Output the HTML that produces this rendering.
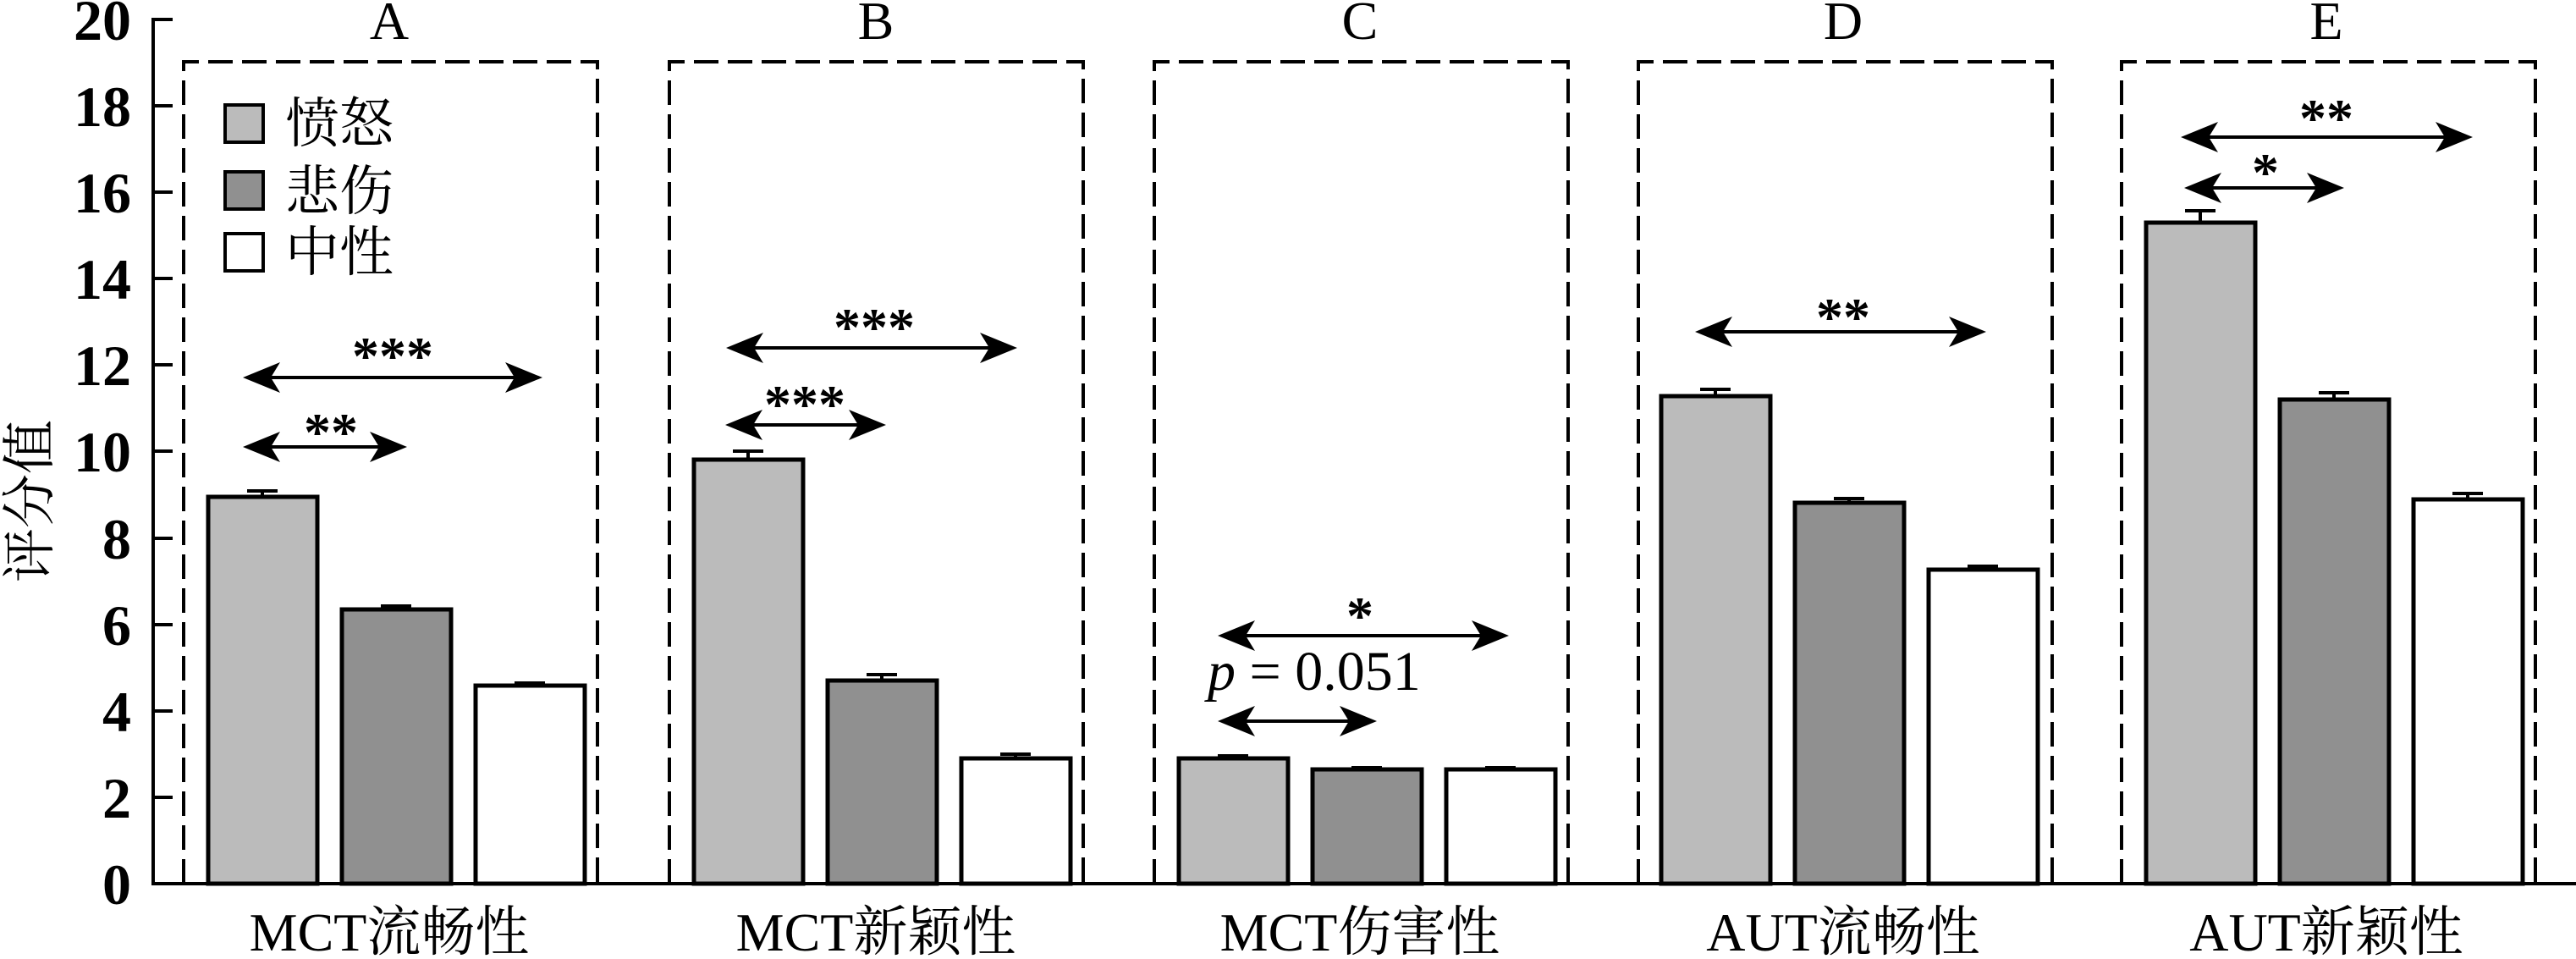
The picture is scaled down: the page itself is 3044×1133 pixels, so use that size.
<!DOCTYPE html>
<html><head><meta charset="utf-8"><style>html,body{margin:0;padding:0;background:#fff}svg{display:block}</style></head>
<body>
<svg width="3044" height="1133" viewBox="0 0 3044 1133" xmlns="http://www.w3.org/2000/svg" font-family="'Liberation Serif','Noto Serif CJK SC',serif">
<defs>
<g id="hl"><polygon points="0,0 44,-18 33,0 44,18" fill="#000"/></g>
<g id="hr"><polygon points="0,0 -44,-18 -33,0 -44,18" fill="#000"/></g>
</defs>
<g fill="none" stroke="#000" stroke-width="4" stroke-dasharray="29,11">
<path d="M217,1044 V73 H706 V1044"/>
<path d="M791,1044 V73 H1280 V1044"/>
<path d="M1364,1044 V73 H1853 V1044"/>
<path d="M1936,1044 V73 H2425 V1044"/>
<path d="M2507,1044 V73 H2996 V1044"/>
</g>
<g stroke="#000" stroke-width="5">
<rect x="246" y="587" width="129" height="457" fill="#bbbbbb"/>
<rect x="404" y="720" width="129" height="324" fill="#909090"/>
<rect x="562" y="810" width="129" height="234" fill="#fff"/>
<rect x="820" y="543" width="129" height="501" fill="#bbbbbb"/>
<rect x="978" y="804" width="129" height="240" fill="#909090"/>
<rect x="1136" y="896" width="129" height="148" fill="#fff"/>
<rect x="1393" y="896" width="129" height="148" fill="#bbbbbb"/>
<rect x="1551" y="909" width="129" height="135" fill="#909090"/>
<rect x="1709" y="909" width="129" height="135" fill="#fff"/>
<rect x="1963" y="468" width="129" height="576" fill="#bbbbbb"/>
<rect x="2121" y="594" width="129" height="450" fill="#909090"/>
<rect x="2279" y="673" width="129" height="371" fill="#fff"/>
<rect x="2536" y="263" width="129" height="781" fill="#bbbbbb"/>
<rect x="2694" y="472" width="129" height="572" fill="#909090"/>
<rect x="2852" y="590" width="129" height="454" fill="#fff"/>
</g>
<g stroke="#000" stroke-width="4" fill="none">
<path d="M310,587V580M292,580H328"/>
<path d="M468,720V716M450,716H486"/>
<path d="M626,810V807M608,807H644"/>
<path d="M884,543V533M866,533H902"/>
<path d="M1042,804V797M1024,797H1060"/>
<path d="M1200,896V891M1182,891H1218"/>
<path d="M1457,896V893M1439,893H1475"/>
<path d="M1615,909V907M1597,907H1633"/>
<path d="M1773,909V907M1755,907H1791"/>
<path d="M2027,468V460M2009,460H2045"/>
<path d="M2185,594V589M2167,589H2203"/>
<path d="M2343,673V669M2325,669H2361"/>
<path d="M2600,263V249M2582,249H2618"/>
<path d="M2758,472V464M2740,464H2776"/>
<path d="M2916,590V583M2898,583H2934"/>
</g>
<g stroke="#000" stroke-width="4" fill="none">
<path d="M181,21V1044H3044"/>
<path d="M181,23h23M181,125h23M181,227h23M181,329h23M181,431h23M181,533h23M181,636h23M181,738h23M181,840h23M181,942h23"/>
</g>
<g font-size="68" font-weight="bold" text-anchor="end">
<text x="155" y="47">20</text><text x="155" y="149">18</text><text x="155" y="251">16</text><text x="155" y="353">14</text><text x="155" y="455">12</text><text x="155" y="557">10</text><text x="155" y="660">8</text><text x="155" y="762">6</text><text x="155" y="864">4</text><text x="155" y="966">2</text><text x="155" y="1068">0</text>
</g>
<text transform="translate(57,592) rotate(-90)" font-size="64" text-anchor="middle">评分值</text>
<g stroke="#000" stroke-width="4">
<path d="M300,446H628M300,528H468M871,411H1189M870,502H1034M1452,751H1770M1452,852H1614M2016,392H2334M2590,162H2909M2594,222H2757"/>
</g>
<use href="#hl" x="287" y="446"/><use href="#hr" x="641" y="446"/>
<use href="#hl" x="287" y="528"/><use href="#hr" x="481" y="528"/>
<use href="#hl" x="858" y="411"/><use href="#hr" x="1202" y="411"/>
<use href="#hl" x="857" y="502"/><use href="#hr" x="1047" y="502"/>
<use href="#hl" x="1439" y="751"/><use href="#hr" x="1783" y="751"/>
<use href="#hl" x="1439" y="852"/><use href="#hr" x="1627" y="852"/>
<use href="#hl" x="2003" y="392"/><use href="#hr" x="2347" y="392"/>
<use href="#hl" x="2577" y="162"/><use href="#hr" x="2922" y="162"/>
<use href="#hl" x="2581" y="222"/><use href="#hr" x="2770" y="222"/>
<g font-size="64" font-weight="bold" text-anchor="middle">
<text x="464" y="442">***</text><text x="391" y="532">**</text>
<text x="1033" y="408">***</text><text x="951" y="499">***</text>
<text x="1607" y="749">*</text>
<text x="2178" y="396">**</text>
<text x="2749" y="161">**</text><text x="2677" y="225">*</text>
</g>
<text x="1427" y="815" font-size="66"><tspan font-style="italic">p</tspan> = 0.051</text>
<g font-size="64" text-anchor="middle">
<text x="460" y="46">A</text><text x="1035" y="46">B</text><text x="1607" y="46">C</text><text x="2178" y="46">D</text><text x="2749" y="46">E</text>
<text x="460" y="1123">MCT流畅性</text><text x="1035" y="1123">MCT新颖性</text><text x="1607" y="1123">MCT伤害性</text><text x="2178" y="1123">AUT流畅性</text><text x="2749" y="1123">AUT新颖性</text>
</g>
<g stroke="#000" stroke-width="4">
<rect x="266" y="124" width="45" height="44" fill="#bbbbbb"/>
<rect x="266" y="203" width="45" height="44" fill="#909090"/>
<rect x="266" y="276" width="45" height="44" fill="#fff"/>
</g>
<g font-size="64">
<text x="337" y="168">愤怒</text><text x="337" y="248">悲伤</text><text x="337" y="320">中性</text>
</g>
</svg>
</body></html>
